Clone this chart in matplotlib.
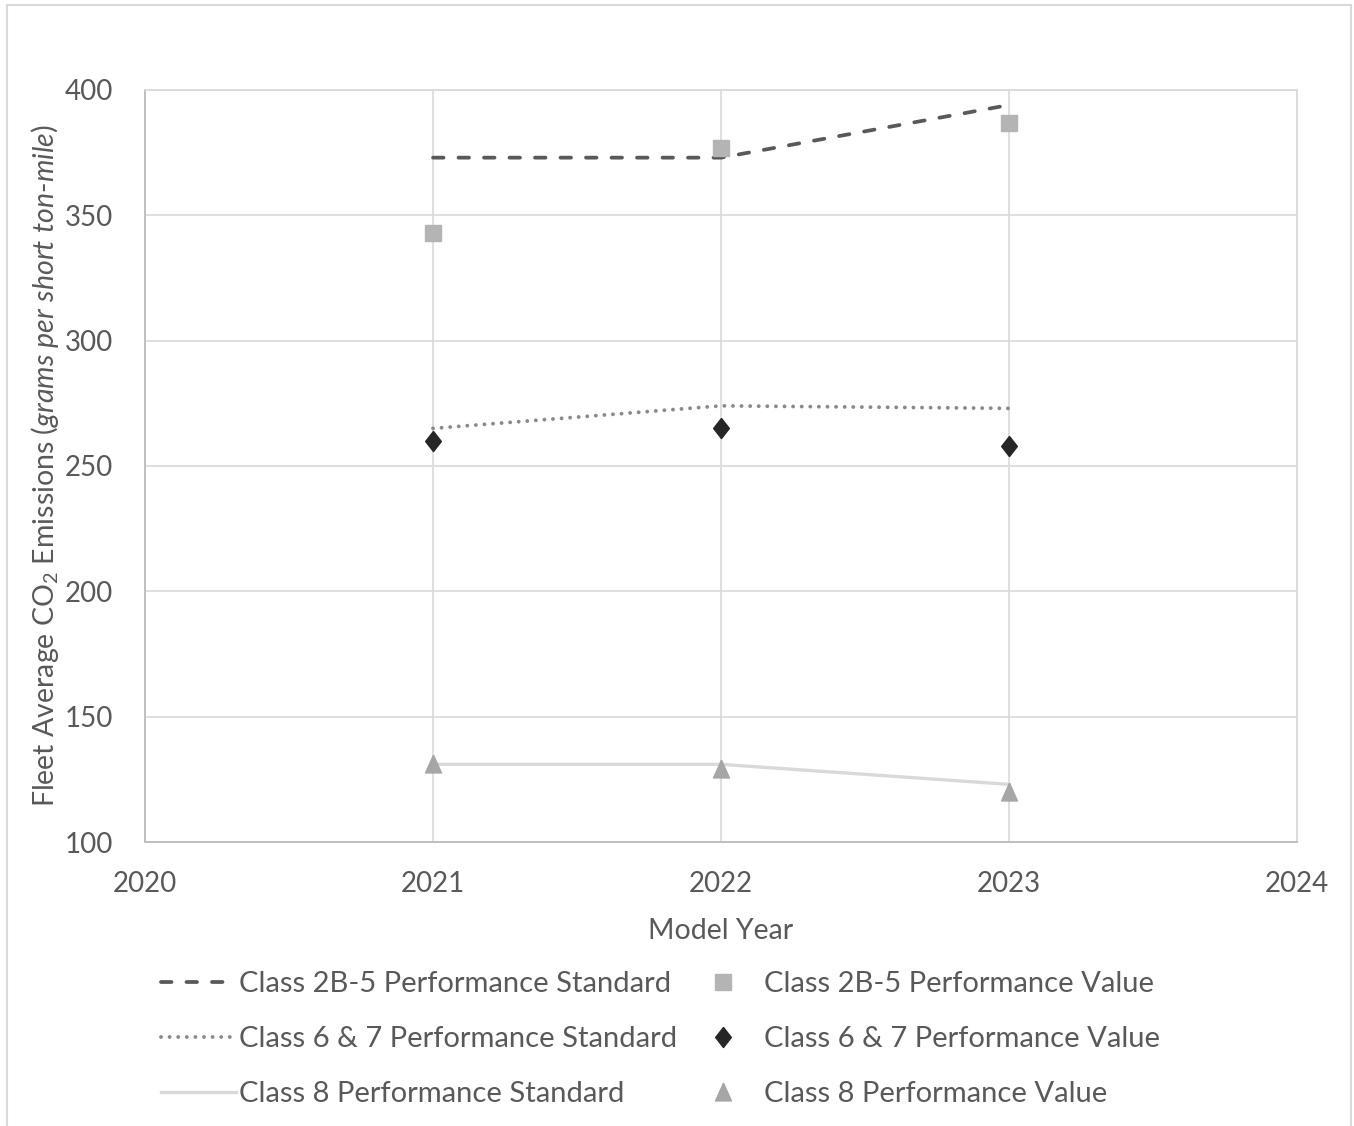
import matplotlib
matplotlib.use("Agg")
import matplotlib.pyplot as plt
from matplotlib.patches import Rectangle

# Model years and fleet averages (grams CO2 per short ton-mile)
years = [2021, 2022, 2023]
std_2b5 = [373, 373, 394]
val_2b5 = [343, 377, 387]
std_67 = [265, 274, 273]
val_67 = [260, 265, 258]
std_8 = [131, 131, 123]
val_8 = [131, 129, 120]

x_ticks = [2020, 2021, 2022, 2023, 2024]
y_ticks = [100, 150, 200, 250, 300, 350, 400]

txt = "#595959"
grid = "#D9D9D9"

plt.rcParams["font.family"] = ["Lato", "DejaVu Sans"]
plt.rcParams["mathtext.fontset"] = "custom"
plt.rcParams["mathtext.rm"] = "Lato"
plt.rcParams["mathtext.it"] = "Lato:italic"

fig = plt.figure(figsize=(13.54, 11.26), dpi=100)
ax = fig.add_axes([0.1071, 0.2522, 0.8508, 0.6679])

# outer chart border
fig.patches.append(Rectangle((7 / 1354, -0.01), (1351 - 7) / 1354, 1 - 5 / 1126 + 0.01,
                             transform=fig.transFigure, fill=False,
                             edgecolor="#D9D9D9", linewidth=1.5))

diamond = [(0, 1), (0.78, 0), (0, -1), (-0.78, 0), (0, 1)]
triangle = [(0, 1), (-0.85, -0.9), (0.85, -0.9), (0, 1)]

l1, = ax.plot(years, std_2b5, color="#595959", lw=2.7, dashes=(2.8, 4.0),
              dash_capstyle="round", label="Class 2B-5 Performance Standard", zorder=3)
l2, = ax.plot(years, std_67, color="#8A8A8A", lw=2.8, dashes=(0.01, 2.2),
              dash_capstyle="round", label="Class 6 & 7 Performance Standard", zorder=3)
l3, = ax.plot(years, std_8, color="#D9D9D9", lw=2.4,
              label="Class 8 Performance Standard", zorder=3)
m1, = ax.plot(years, val_2b5, ls="none", marker="s", ms=11.5, color="#B4B4B4",
              label="Class 2B-5 Performance Value", zorder=4)
m2, = ax.plot(years, val_67, ls="none", marker=diamond, ms=14.5, color="#262626",
              label="Class 6 & 7 Performance Value", zorder=4)
m3, = ax.plot(years, val_8, ls="none", marker=triangle, ms=13.5, color="#A6A6A6",
              label="Class 8 Performance Value", zorder=4)

ax.set_xlim(2020, 2024)
ax.set_ylim(100, 400)
ax.set_xticks(x_ticks)
ax.set_yticks(y_ticks)
ax.grid(True, color=grid, lw=1.2)
ax.set_axisbelow(True)
ax.tick_params(length=0, labelsize=20, colors=txt)
ax.tick_params(axis="y", pad=23)
ax.tick_params(axis="x", pad=21)
for side in ["top", "right"]:
    ax.spines[side].set_color(grid)
    ax.spines[side].set_linewidth(1.2)
for side in ["left", "bottom"]:
    ax.spines[side].set_color("#BFBFBF")
    ax.spines[side].set_linewidth(1.4)

ax.set_xlabel("Model Year", fontsize=20.5, color=txt, labelpad=15)
ax.set_ylabel(r"Fleet Average CO$_2$ Emissions $\mathit{(grams\ per\ short\ ton}$-$\mathit{mile)}$",
              fontsize=20.5, color=txt, labelpad=3)

leg = fig.legend(handles=[l1, l2, l3, m1, m2, m3], ncol=2, loc="center",
                 bbox_to_anchor=(0.488, 0.077), frameon=False, fontsize=21,
                 labelcolor=txt, handlelength=2.55, handletextpad=0.12,
                 columnspacing=0.3, labelspacing=1.0)

plt.savefig("out.png", dpi=100)
